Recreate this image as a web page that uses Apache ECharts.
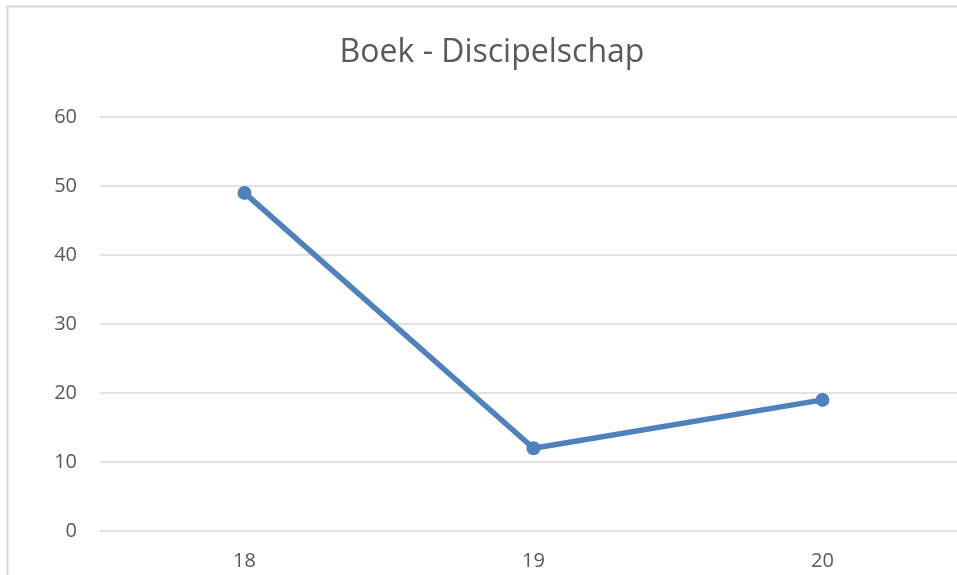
<!DOCTYPE html>
<html>
<head>
<meta charset="utf-8">
<script src="https://cdn.jsdelivr.net/npm/echarts@6/dist/echarts.min.js"></script>
<style>
  html, body { margin: 0; padding: 0; background: #fff; overflow: hidden; }
  #chart { width: 957px; height: 575px; }
</style>
</head>
<body>
<div id="chart"></div>
<script>
// data
const titleText = 'Boek - Discipelschap'
const categories = ['18', '19', '20']
const values = [49, 12, 19]
const yTicks = { min: 0, max: 60, interval: 10 }

const myChart = echarts.init(document.getElementById('chart'))

const option = {
  animation: false,
  textStyle: { fontFamily: 'Open Sans' },
  title: {
    text: titleText,
    left: 487,
    textAlign: 'center',
    top: 32,
    textStyle: {
      fontFamily: 'Open Sans',
      fontWeight: 'normal',
      fontSize: 32,
      color: '#595959'
    }
  },
  // chart border, cut off at right and bottom like the screenshot
  graphic: [
    {
      type: 'rect',
      shape: { x: 7.5, y: 6.5, width: 1200, height: 1200 },
      style: { fill: 'none', stroke: '#d9d9d9', lineWidth: 2 },
      silent: true
    }
  ],
  grid: {
    left: 100,
    top: 117,
    width: 867,
    height: 414,
    outerBoundsMode: 'none',
    containLabel: false
  },
  xAxis: {
    type: 'category',
    data: categories,
    boundaryGap: true,
    axisLine: { show: false },
    axisTick: { show: false },
    axisLabel: {
      color: '#595959',
      fontSize: 20,
      margin: 20
    }
  },
  yAxis: {
    type: 'value',
    min: yTicks.min,
    max: yTicks.max,
    interval: yTicks.interval,
    axisLine: { show: false },
    axisTick: { show: false },
    axisLabel: {
      color: '#595959',
      fontSize: 20,
      margin: 23
    },
    splitLine: {
      lineStyle: { color: '#d9d9d9', width: 1.5 }
    }
  },
  series: [
    {
      name: titleText,
      type: 'line',
      data: values,
      color: '#4f81bd',
      symbol: 'circle',
      symbolSize: 14,
      lineStyle: { width: 5.5, color: '#4f81bd' },
      itemStyle: { color: '#4f81bd' }
    }
  ]
}

myChart.setOption(option)
</script>
</body>
</html>
